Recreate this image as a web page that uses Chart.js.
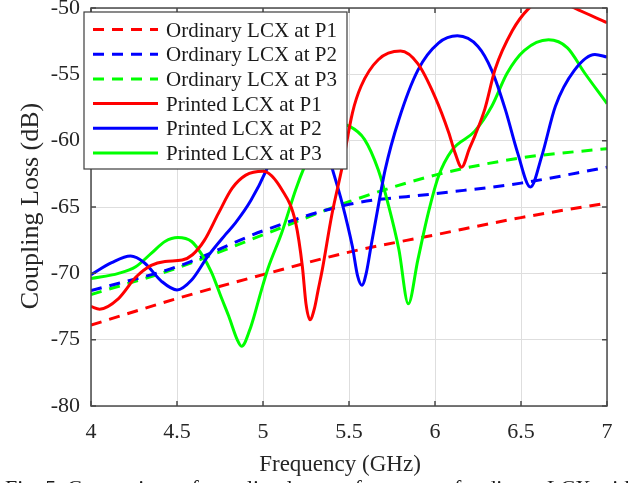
<!DOCTYPE html>
<html>
<head>
<meta charset="utf-8">
<script src="https://cdn.jsdelivr.net/npm/chart.js@4.4.1/dist/chart.umd.min.js"></script>
<style>
  html, body { margin: 0; padding: 0; background: #fff; }
  #wrap { width: 632px; height: 483px; overflow: hidden; }
</style>
</head>
<body>
<div id="wrap"><canvas id="lossChart" width="632" height="483"></canvas></div>
<script>
// Ordinary LCX (dashed), sampled every 0.5 GHz
const freqOrd = [4, 4.5, 5, 5.5, 6, 6.5, 7];
const ordP1 = [-73.9, -71.9, -70.1, -68.4, -67.1, -65.8, -64.7];
const ordP2 = [-71.3, -69.5, -66.8, -64.8, -64.0, -63.2, -62.0];
const ordP3 = [-71.6, -69.6, -67.1, -64.6, -62.6, -61.3, -60.6];

// Printed LCX (solid)
const freqPrP1 = [4.00, 4.05, 4.16, 4.26, 4.35, 4.43, 4.53, 4.59, 4.66, 4.74, 4.82, 4.90, 5.00, 5.11, 5.19, 5.229, 5.25, 5.273, 5.30, 5.32, 5.345, 5.40, 5.46, 5.52, 5.57, 5.67, 5.80, 5.90, 6.00, 6.08, 6.116, 6.155, 6.20, 6.233, 6.29, 6.35, 6.45, 6.54, 6.62, 6.70, 6.81, 7.00];
const lossPrP1 = [-72.5, -72.7, -71.9, -70.3, -69.4, -69.1, -69.0, -68.6, -67.5, -65.5, -63.6, -62.6, -62.3, -63.7, -66.2, -69.5, -72.3, -73.5, -72.6, -71.3, -69.7, -65.6, -62.0, -57.9, -55.9, -53.9, -53.25, -54.2, -56.7, -59.4, -60.9, -62.0, -60.6, -59.6, -57.6, -54.6, -51.7, -50.1, -49.4, -49.3, -50.0, -51.1];

const freqPrP2 = [4.00, 4.12, 4.23, 4.31, 4.41, 4.50, 4.585, 4.68, 4.78, 4.84, 4.93, 5.02, 5.10, 5.21, 5.32, 5.40, 5.46, 5.52, 5.55, 5.575, 5.60, 5.63, 5.665, 5.71, 5.79, 5.90, 6.02, 6.13, 6.25, 6.33, 6.41, 6.48, 6.555, 6.62, 6.70, 6.81, 6.93, 7.00];
const lossPrP2 = [-70.1, -69.2, -68.7, -69.2, -70.6, -71.25, -70.5, -68.7, -67.1, -66.2, -64.5, -62.2, -59.5, -57.3, -58.5, -62.0, -64.7, -68.0, -70.2, -70.9, -70.0, -67.8, -65.3, -62.2, -58.4, -54.7, -52.65, -52.1, -52.9, -54.7, -57.7, -60.9, -63.5, -61.2, -57.4, -54.7, -53.5, -53.7];

const freqPrP3 = [4.00, 4.16, 4.26, 4.35, 4.43, 4.505, 4.585, 4.64, 4.70, 4.76, 4.80, 4.85, 4.875, 4.93, 4.99, 5.03, 5.11, 5.19, 5.24, 5.32, 5.42, 5.50, 5.59, 5.67, 5.73, 5.79, 5.845, 5.90, 5.96, 6.02, 6.10, 6.23, 6.33, 6.42, 6.52, 6.66, 6.77, 6.87, 7.00];
const lossPrP3 = [-70.4, -70.0, -69.5, -68.5, -67.6, -67.3, -67.6, -68.5, -69.9, -71.9, -73.2, -75.0, -75.5, -74.0, -71.3, -69.6, -66.9, -63.7, -62.0, -59.8, -58.7, -58.9, -59.9, -62.2, -64.9, -68.2, -72.3, -69.0, -65.5, -62.7, -60.7, -59.3, -57.4, -54.9, -53.2, -52.4, -53.0, -54.9, -57.2];

// Axis ticks
const xTicks = [4, 4.5, 5, 5.5, 6, 6.5, 7];
const yTicks = [-80, -75, -70, -65, -60, -55, -50];

const seriesNames = ['Ordinary LCX at P1', 'Ordinary LCX at P2', 'Ordinary LCX at P3',
                     'Printed LCX at P1', 'Printed LCX at P2', 'Printed LCX at P3'];
const RED = '#ff0000', BLUE = '#0000ff', GREEN = '#00ff00';
const DASH = [11, 8];
const SERIF = '"Liberation Serif", "Times New Roman", serif';

function toPoints(xs, ys) {
  return xs.map((x, i) => ({ x: x, y: ys[i] }));
}

function lineSet(label, xs, ys, color, dashed) {
  return {
    label: label,
    data: toPoints(xs, ys),
    borderColor: color,
    borderWidth: 3,
    borderDash: dashed ? DASH : [],
    pointRadius: 0,
    fill: false,
    cubicInterpolationMode: 'monotone',
    order: dashed ? 1 : 0
  };
}

// Box, inward ticks, legend, titles and caption
const decorPlugin = {
  id: 'decor',
  afterDraw(chart) {
    const ctx = chart.ctx;
    const a = chart.chartArea;
    const xs = chart.scales.x, ys = chart.scales.y;
    ctx.save();

    ctx.strokeStyle = '#4a4a4a';
    ctx.lineWidth = 1.5;
    ctx.strokeRect(a.left, a.top, a.right - a.left, a.bottom - a.top);
    ctx.beginPath();
    xTicks.forEach(v => {
      const px = xs.getPixelForValue(v);
      ctx.moveTo(px, a.bottom); ctx.lineTo(px, a.bottom - 5);
      ctx.moveTo(px, a.top); ctx.lineTo(px, a.top + 5);
    });
    yTicks.forEach(v => {
      const py = ys.getPixelForValue(v);
      ctx.moveTo(a.left, py); ctx.lineTo(a.left + 5, py);
      ctx.moveTo(a.right, py); ctx.lineTo(a.right - 5, py);
    });
    ctx.stroke();

    // legend
    const lx = 84, ly = 12, lw = 263, lh = 157;
    ctx.fillStyle = '#fff';
    ctx.fillRect(lx, ly, lw, lh);
    ctx.strokeStyle = '#3c3c3c';
    ctx.lineWidth = 1.2;
    ctx.strokeRect(lx, ly, lw, lh);
    const colors = [RED, BLUE, GREEN, RED, BLUE, GREEN];
    ctx.font = '21px ' + SERIF;
    ctx.textBaseline = 'alphabetic';
    ctx.textAlign = 'left';
    seriesNames.forEach((name, i) => {
      const cy = 29.5 + i * 24.7;
      ctx.beginPath();
      ctx.strokeStyle = colors[i];
      ctx.lineWidth = 3;
      ctx.setLineDash(i < 3 ? DASH : []);
      ctx.moveTo(93, cy); ctx.lineTo(158, cy);
      ctx.stroke();
      ctx.setLineDash([]);
      ctx.fillStyle = '#1a1a1a';
      ctx.fillText(name, 166, cy + 7);
    });

    // axis titles
    ctx.fillStyle = '#262626';
    ctx.font = '23px ' + SERIF;
    ctx.textAlign = 'center';
    ctx.fillText('Frequency (GHz)', 340, 471);
    ctx.save();
    ctx.font = '26px ' + SERIF;
    ctx.translate(38, 206);
    ctx.rotate(-Math.PI / 2);
    ctx.fillText('Coupling Loss (dB)', 0, 0);
    ctx.restore();

    // caption (cut off at the bottom edge)
    ctx.fillStyle = '#1a1a1a';
    ctx.font = '22px ' + SERIF;
    ctx.textAlign = 'left';
    ctx.fillText('Fig. 5. Comparison of coupling loss performance of ordinary LCX with', 5, 495);

    ctx.restore();
  }
};

const lossCtx = document.getElementById('lossChart');
window.lossChart = new Chart(lossCtx, {
  type: 'line',
  data: {
    datasets: [
      lineSet(seriesNames[0], freqOrd, ordP1, RED, true),
      lineSet(seriesNames[1], freqOrd, ordP2, BLUE, true),
      lineSet(seriesNames[2], freqOrd, ordP3, GREEN, true),
      lineSet(seriesNames[3], freqPrP1, lossPrP1, RED, false),
      lineSet(seriesNames[4], freqPrP2, lossPrP2, BLUE, false),
      lineSet(seriesNames[5], freqPrP3, lossPrP3, GREEN, false)
    ]
  },
  options: {
    responsive: false,
    animation: false,
    devicePixelRatio: 1,
    layout: {
      padding: { top: 8, right: 25, left: 0, bottom: 0 }
    },
    scales: {
      x: {
        type: 'linear',
        min: 4,
        max: 7,
        afterBuildTicks: scale => { scale.ticks = xTicks.map(v => ({ value: v })); },
        afterFit: scale => {
          scale.height = 77;
          scale.paddingLeft = 0;
          scale.paddingRight = 0;
        },
        ticks: {
          padding: 13,
          color: '#262626',
          font: { family: SERIF, size: 22 },
          callback: value => String(value)
        },
        grid: { color: '#dedede', lineWidth: 1, drawTicks: false },
        border: { display: false }
      },
      y: {
        min: -80,
        max: -50,
        afterBuildTicks: scale => { scale.ticks = yTicks.map(v => ({ value: v })); },
        afterFit: scale => {
          scale.width = 91;
          scale.paddingTop = 0;
          scale.paddingBottom = 0;
        },
        ticks: {
          padding: 11,
          color: '#262626',
          font: { family: SERIF, size: 22 },
          callback: value => String(value)
        },
        grid: { color: '#dedede', lineWidth: 1, drawTicks: false },
        border: { display: false }
      }
    },
    plugins: {
      legend: { display: false },
      tooltip: { enabled: false }
    }
  },
  plugins: [decorPlugin]
});
</script>
</body>
</html>
